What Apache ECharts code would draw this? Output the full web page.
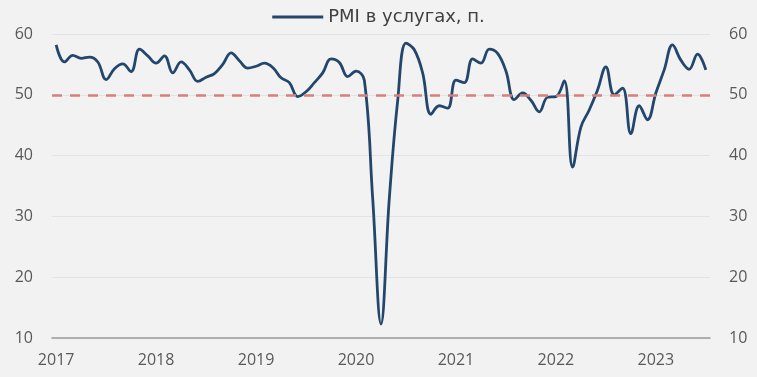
<!DOCTYPE html>
<html>
<head>
<meta charset="utf-8">
<script src="https://cdn.jsdelivr.net/npm/echarts@6/dist/echarts.min.js"></script>
<style>
  html, body { margin: 0; padding: 0; background: #f2f2f2; }
  #chart { width: 757px; height: 377px; }
</style>
</head>
<body>
<div id="chart"></div>
<script>
  // месяцы янв 2017 - июл 2023
  const years = [2017, 2018, 2019, 2020, 2021, 2022, 2023]
  const months = []
  years.forEach(y => {
    for (let m = 1; m <= 12; m++) {
      if (y === 2023 && m > 7) break
      months.push(y + '-' + String(m).padStart(2, '0'))
    }
  })

  const pmiServices = [
    58.2, 55.4, 56.5, 56.0, 56.2, 55.4, 52.5, 54.3, 55.1, 53.8, 57.5, 56.4,
    55.2, 56.4, 53.6, 55.4, 54.1, 52.2, 52.9, 53.5, 55.0, 56.9, 55.6, 54.4,
    54.7, 55.2, 54.5, 52.8, 52.0, 49.7, 50.5, 52.0, 53.6, 55.9, 55.3, 53.0,
    53.9, 52.4, 33.0, 12.3, 33.0, 49.0, 58.5, 57.4, 53.6, 46.8, 48.2, 47.8,
    52.4, 52.0, 55.9, 55.2, 57.5, 56.8, 53.9, 49.2, 50.3, 49.1, 47.2, 49.6,
    49.7, 52.3, 38.1, 44.7, 47.5, 50.8, 54.6, 50.0, 51.1, 43.6, 48.2, 45.9,
    50.3, 54.1, 58.2, 55.7, 54.2, 56.7, 54.1
  ]

  const threshold = 50
  const yTicks = [10, 20, 30, 40, 50, 60]

  const chart = echarts.init(document.getElementById('chart'))
  const font = '"Open Sans", "Noto Sans", sans-serif'

  const yAxisCommon = {
    type: 'value',
    min: yTicks[0],
    max: yTicks[yTicks.length - 1],
    interval: 10,
    axisLine: { show: false },
    axisTick: { show: false },
    axisLabel: { color: '#595959', fontSize: 16, fontFamily: font, margin: 19 },
    splitLine: { lineStyle: { color: '#e3e3e3', width: 1 } }
  }

  chart.setOption({
    backgroundColor: '#f2f2f2',
    animation: false,
    legend: {
      top: 3,
      left: 'center',
      itemWidth: 51,
      itemHeight: 3,
      itemGap: 10,
      icon: 'rect',
      textStyle: { color: '#404040', fontSize: 18, fontFamily: '"DejaVu Sans", sans-serif' },
      data: ['PMI в услугах, п.']
    },
    grid: { left: 52, right: 47, top: 34, bottom: 39 },
    xAxis: {
      type: 'category',
      data: months,
      boundaryGap: true,
      axisLine: { lineStyle: { color: '#9a9a9a', width: 1.5 } },
      axisTick: { show: false },
      axisLabel: {
        interval: (i) => i % 12 === 0,
        formatter: (v) => v.slice(0, 4),
        color: '#595959',
        fontSize: 16,
        fontFamily: font,
        margin: 14
      },
      splitLine: { show: false }
    },
    yAxis: [
      Object.assign({ position: 'left' }, yAxisCommon),
      Object.assign({ position: 'right' }, yAxisCommon, { splitLine: { show: false } })
    ],
    series: [
      {
        name: 'PMI в услугах, п.',
        type: 'line',
        data: pmiServices,
        smooth: 0.4,
        showSymbol: false,
        symbol: 'none',
        lineStyle: { color: '#23466d', width: 2.8 },
        itemStyle: { color: '#23466d' },
        z: 3,
        markLine: {
          silent: true,
          symbol: 'none',
          label: { show: false },
          lineStyle: { color: '#d4807d', type: [10, 8], width: 2.5 },
          data: [{ yAxis: threshold }]
        }
      }
    ]
  })
</script>
</body>
</html>
